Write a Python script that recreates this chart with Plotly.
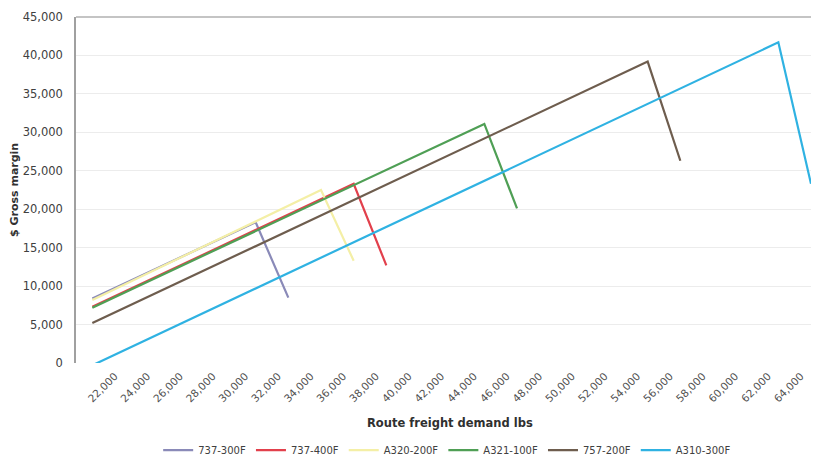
import plotly.graph_objects as go

# Data (vertex points)
series_names = ["737-300F", "737-400F", "A320-200F", "A321-100F", "757-200F", "A310-300F"]
x_737_300 = [21000, 31000, 33000]
y_737_300 = [8400, 18300, 8500]
x_737_400 = [21000, 37000, 39000]
y_737_400 = [7300, 23300, 12700]
x_a320 = [21000, 35000, 37000]
y_a320 = [8200, 22500, 13300]
x_a321 = [21000, 45000, 47000]
y_a321 = [7200, 31100, 20100]
x_757 = [21000, 55000, 57000]
y_757 = [5200, 39200, 26300]
x_a310 = [21000, 63000, 65000]
y_a310 = [-300, 41700, 23300]

x_ticks = list(range(22000, 64001, 2000))
x_tick_labels = [f"{v:,}" for v in x_ticks]
y_ticks = list(range(0, 45001, 5000))
y_tick_labels = [f"{v:,}" for v in y_ticks]

colors = ["#8a8ab8", "#e2404c", "#f4efa6", "#4f9f55", "#6e5d4e", "#2fb2e2"]
xs = [x_737_300, x_737_400, x_a320, x_a321, x_757, x_a310]
ys = [y_737_300, y_737_400, y_a320, y_a321, y_757, y_a310]

fig = go.Figure()
for name, x, y, c in zip(series_names, xs, ys, colors):
    fig.add_trace(go.Scatter(x=x, y=y, mode="lines", name=name, cliponaxis=False,
                             line=dict(color=c, width=2.2)))

# page has an 8px body margin, so the figure is sized/offset to compensate
font_family = "DejaVu Sans, Verdana, sans-serif"
fig.update_layout(
    width=811, height=453,
    margin=dict(l=68, r=8, t=9, b=98, autoexpand=False),
    paper_bgcolor="white", plot_bgcolor="white",
    font=dict(family=font_family, size=10, color="#404040"),
    showlegend=True,
    legend=dict(orientation="h", x=0.505, xanchor="center", y=-0.252, yanchor="middle",
                font=dict(size=10, color="#404040"), itemwidth=30, tracegroupgap=0),
    xaxis=dict(range=[20000, 65000], tickvals=x_ticks, ticktext=x_tick_labels,
               tickangle=-45, showgrid=False, zeroline=False, showline=False,
               automargin=False, ticks="", ticklabelshift=6, ticklabelstandoff=4,
               tickfont=dict(size=10.5, color="#505050")),
    yaxis=dict(range=[0, 45000], tickvals=y_ticks, ticktext=y_tick_labels,
               showgrid=True, gridcolor="#ececec", gridwidth=1, zeroline=False,
               showline=True, linecolor="#a0a0a0", linewidth=1.5, ticks="",
               automargin=False,
               tickfont=dict(size=11.5, color="#404040"), ticklabelstandoff=9),
    annotations=[
        dict(text="<b>Route freight demand lbs</b>", xref="paper", yref="paper",
             x=(450 - 76) / 735, y=-(423 - 363) / 346, xanchor="center", yanchor="middle",
             showarrow=False, font=dict(size=11.5, color="#303030")),
        dict(text="<b>$ Gross margin</b>", xref="paper", yref="paper",
             x=-(76 - 14) / 735, y=0.5, xanchor="center", yanchor="middle",
             textangle=-90, showarrow=False, font=dict(size=11, color="#303030")),
    ],
)
fig.add_shape(type="line", xref="paper", yref="paper", x0=0, x1=1, y0=1, y1=1,
              line=dict(color="#b0b0b0", width=1.5))

fig.write_html("out.html")
